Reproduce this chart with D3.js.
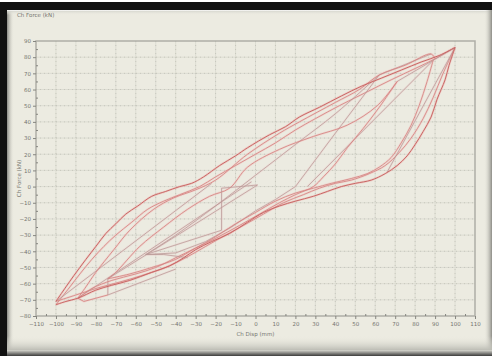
<!DOCTYPE html>
<html>
<head>
<meta charset="utf-8">
<script src="https://cdn.jsdelivr.net/npm/d3@7"></script>
<style>
  html, body { margin: 0; padding: 0; background: #fff; }
  svg { display: block; font-family: "DejaVu Sans", sans-serif; }
</style>
</head>
<body>
<div id="chart"></div>
<script>
// tick labels
const xTickValues = [-110, -100, -90, -80, -70, -60, -50, -40, -30, -20, -10, 0, 10, 20, 30, 40, 50, 60, 70, 80, 90, 100, 110]
const yTickValues = [-80, -70, -60, -50, -40, -30, -20, -10, 0, 10, 20, 30, 40, 50, 60, 70, 80, 90]
const xMinorTicks = [-105, -95, -85, -75, -65, -55, -45, -35, -25, -15, -5, 5, 15, 25, 35, 45, 55, 65, 75, 85, 95, 105]
const yMinorTicks = [-75, -65, -55, -45, -35, -25, -15, -5, 5, 15, 25, 35, 45, 55, 65, 75, 85]

// [Ch Disp (mm), Ch Force (kN)]
const startZig = [[1, 1], [-17, -1], [-17, -27], [-55, -42], [-46, -42], [-34, -44]]
const upperSmall = [[-55, -42], [-40, -30], [-20, -12], [0, 7], [20, 26], [40, 45], [62, 69]]
const lowerSmall = [[62, 69], [40, 33], [20, 0], [10, -8], [0, -15], [-12, -25], [-25, -34], [-40, -41], [-55, -42]]
const upperMid = [[-74, -57], [-70, -53], [-58, -37], [-46, -25], [-34, -14], [-23, -6], [-13, -1], [-4, 12],
  [12, 23], [29, 31], [46, 38], [61, 50], [71, 65]]
const lowerMid = [[71, 65], [62, 49], [54, 36], [46, 24], [40, 14], [34, 6], [29, 0], [20, -5], [12, -10], [2, -17],
  [-8, -24], [-20, -32], [-30, -38], [-40, -45], [-52, -50], [-63, -54], [-74, -57]]
const dropMid = [[-74, -57], [-74, -67], [-40, -51]]
const upperLarge = [[-89, -69], [-85, -62], [-80, -53], [-71, -39], [-63, -27], [-51, -14], [-41, -7], [-30, -2],
  [-20, 4], [-4, 20], [12, 33], [22, 40], [40, 52], [52, 60], [62, 69], [75, 75], [88, 82], [90, 79]]
const lowerLarge = [[89, 78], [86, 65], [82, 50], [78, 38], [73, 27], [68, 18], [62, 12], [56, 8], [48, 5], [38, 2],
  [29, -1], [20, -4], [10, -9], [0, -16], [-10, -23], [-20, -31], [-30, -38], [-40, -44], [-50, -50], [-60, -54],
  [-72, -58], [-82, -63], [-89, -69]]
const hookLarge = [[-89, -69], [-86, -71], [-74, -67]]
const upperOuter = [[-100, -71], [-95, -62], [-91, -55], [-85, -45], [-80, -37], [-75, -29], [-70, -23], [-65, -17],
  [-59, -12], [-52, -6], [-45, -3], [-38, 0], [-32, 2], [-26, 6], [-18, 13], [-10, 19], [-4, 24], [7, 32], [15, 37],
  [22, 43], [32, 49], [43, 56], [53, 62], [63, 67], [73, 72], [83, 77], [92, 81], [100, 86]]
const upperOuter2 = [[-100, -73], [-93, -62], [-88, -54], [-82, -45], [-76, -37], [-70, -30], [-62, -22], [-54, -14],
  [-46, -9], [-38, -5], [-28, 0], [-20, 6], [-10, 13], [0, 20], [10, 27], [20, 35], [30, 42], [42, 50], [55, 58],
  [68, 66], [80, 73], [90, 79], [100, 86]]
const lowerOuter = [[100, 86], [97, 75], [95, 66], [91, 54], [88, 43], [84, 34], [80, 26], [76, 19], [71, 13], [65, 8],
  [58, 4], [50, 2], [43, 0], [36, -3], [29, -6], [20, -9], [12, -12], [4, -16], [-4, -22], [-13, -29], [-22, -34],
  [-30, -39], [-36, -44], [-43, -49], [-52, -53], [-63, -58], [-72, -61], [-80, -64], [-89, -69], [-95, -71], [-100, -73]]
const lowerOuter2 = [[100, 86], [94, 70], [89, 55], [84, 42], [78, 30], [72, 21], [65, 13], [57, 8], [48, 4], [40, 2],
  [32, -1], [24, -5], [14, -10], [4, -17], [-6, -24], [-15, -30], [-25, -37], [-35, -44], [-45, -50], [-57, -55],
  [-68, -59], [-80, -63], [-90, -67], [-100, -71]]
const chordA = [[100, 86], [66, 9]]
const chordB = [[89, 78], [26, 0]]
const chordC = [[-100, -71], [-22, 2]]
const chordD = [[-89, -69], [-2, 3]]
const chordE = [[-74, -57], [1, 1]]
const chordF = [[71, 65], [100, 86]]
const chordG = [[62, 69], [88, 82]]

const curves = [
  { pts: lowerOuter2, kind: 'red', smooth: true }, { pts: upperOuter2, kind: 'red', smooth: true },
  { pts: chordA, kind: 'gray' }, { pts: chordB, kind: 'gray' }, { pts: chordC, kind: 'gray' },
  { pts: chordD, kind: 'gray' }, { pts: chordE, kind: 'gray' }, { pts: chordF, kind: 'gray' },
  { pts: chordG, kind: 'gray' },
  { pts: upperSmall, kind: 'gray', smooth: true }, { pts: lowerSmall, kind: 'gray' },
  { pts: upperMid, kind: 'red', smooth: true }, { pts: lowerMid, kind: 'red', smooth: true },
  { pts: dropMid, kind: 'gray' },
  { pts: upperLarge, kind: 'red', smooth: true }, { pts: lowerLarge, kind: 'red', smooth: true },
  { pts: hookLarge, kind: 'red' },
  { pts: startZig, kind: 'gray' },
  { pts: lowerOuter, kind: 'dark', smooth: true }, { pts: upperOuter, kind: 'dark', smooth: true }
]

const W = 492, H = 356
const svg = d3.select('#chart').append('svg').attr('width', W).attr('height', H)
const defs = svg.append('defs')

function grad(id, x2, y2, stops) {
  const g = defs.append('linearGradient').attr('id', id)
    .attr('x1', 0).attr('y1', 0).attr('x2', x2).attr('y2', y2)
  stops.forEach(s => g.append('stop').attr('offset', s[0]).attr('stop-color', s[1]).attr('stop-opacity', s[2]))
}
grad('gLeft', 1, 0, [[0, '#8a8a84', 1], [1, '#ecebe1', 0]])
grad('gTop', 0, 1, [[0, '#ffffff', 1], [0.3, '#d8d8d0', 0.8], [1, '#ecebe1', 0]])
grad('gBottom', 0, 1, [[0, '#ecebe1', 0], [1, '#bdbdb5', 1]])
grad('gFoot', 0, 1, [[0, '#d8d8d0', 1], [1, '#3c3c3c', 1]])
grad('gRight', 1, 0, [[0, '#ecebe1', 0], [1, '#8c8c86', 1]])

// frame
svg.append('rect').attr('x', 0).attr('y', 2).attr('width', W).attr('height', H - 2).attr('fill', '#111')
svg.append('rect').attr('x', 7).attr('y', 10).attr('width', W - 7).attr('height', H - 10).attr('fill', '#ecebe1')
svg.append('rect').attr('x', 7).attr('y', 10).attr('width', 7).attr('height', H - 10).attr('fill', 'url(#gLeft)')
svg.append('rect').attr('x', 7).attr('y', 10).attr('width', W - 7).attr('height', 5).attr('fill', 'url(#gTop)')
svg.append('rect').attr('x', W - 8).attr('y', 10).attr('width', 8).attr('height', H - 10).attr('fill', 'url(#gRight)')
svg.append('rect').attr('x', 7).attr('y', 336).attr('width', W - 7).attr('height', 14).attr('fill', 'url(#gBottom)')
svg.append('rect').attr('x', 7).attr('y', 350).attr('width', W - 7).attr('height', 6).attr('fill', 'url(#gFoot)')

const x = d3.scaleLinear().domain([-110, 110]).range([36, 475])
const y = d3.scaleLinear().domain([-80, 90]).range([316, 41])

const plot = svg.append('g')

// grid
plot.selectAll('line.vg').data(xTickValues.slice(1, -1)).enter().append('line')
  .attr('x1', d => x(d)).attr('x2', d => x(d)).attr('y1', y(90)).attr('y2', y(-80))
  .attr('stroke', '#dcdcd2').attr('stroke-width', 1)
plot.selectAll('line.hg').data(yTickValues.slice(1, -1)).enter().append('line')
  .attr('y1', d => y(d)).attr('y2', d => y(d)).attr('x1', x(-110)).attr('x2', x(110))
  .attr('stroke', '#dcdcd2').attr('stroke-width', 1)
plot.selectAll('line.vgd').data(xTickValues.slice(1, -1)).enter().append('line')
  .attr('x1', d => x(d)).attr('x2', d => x(d)).attr('y1', y(90)).attr('y2', y(-80))
  .attr('stroke', '#c2c2b7').attr('stroke-width', 0.8).attr('stroke-dasharray', '1,3')
plot.selectAll('line.hgd').data(yTickValues.slice(1, -1)).enter().append('line')
  .attr('y1', d => y(d)).attr('y2', d => y(d)).attr('x1', x(-110)).attr('x2', x(110))
  .attr('stroke', '#c2c2b7').attr('stroke-width', 0.8).attr('stroke-dasharray', '1,3')

// curves
const straight = d3.line().x(d => x(d[0])).y(d => y(d[1]))
const smooth = d3.line().x(d => x(d[0])).y(d => y(d[1])).curve(d3.curveCatmullRom.alpha(0.5))
const core = { red: '#d48482', gray: '#b99896', dark: '#c96866' }
const halo = { red: '#f1c6c2', gray: '#ead3cf', dark: '#efb4b0' }
const width = { red: 0.85, gray: 0.75, dark: 1 }
curves.forEach(c => {
  plot.append('path').attr('d', (c.smooth ? smooth : straight)(c.pts)).attr('fill', 'none')
    .attr('stroke', halo[c.kind]).attr('stroke-width', 2.2).attr('stroke-opacity', 0.55)
    .attr('stroke-linejoin', 'round')
})
curves.forEach(c => {
  plot.append('path').attr('d', (c.smooth ? smooth : straight)(c.pts)).attr('fill', 'none')
    .attr('stroke', core[c.kind]).attr('stroke-width', width[c.kind])
    .attr('stroke-linejoin', 'round')
})

// plot box
plot.append('rect').attr('x', x(-110)).attr('y', y(90)).attr('width', x(110) - x(-110)).attr('height', y(-80) - y(90))
  .attr('fill', 'none').attr('stroke', '#aeaea6').attr('stroke-width', 1.5)

// axes
const gx = svg.append('g').attr('transform', `translate(0,${y(-80)})`)
  .call(d3.axisBottom(x).tickValues(xTickValues).tickSizeInner(3).tickSizeOuter(0).tickPadding(3))
const gxm = svg.append('g').attr('transform', `translate(0,${y(-80)})`)
  .call(d3.axisBottom(x).tickValues(xMinorTicks).tickSizeInner(-2).tickSizeOuter(0).tickFormat(''))
const gy = svg.append('g').attr('transform', `translate(${x(-110)},0)`)
  .call(d3.axisLeft(y).tickValues(yTickValues).tickSizeInner(3).tickSizeOuter(0).tickPadding(2))
const gym = svg.append('g').attr('transform', `translate(${x(-110)},0)`)
  .call(d3.axisLeft(y).tickValues(yMinorTicks).tickSizeInner(-2).tickSizeOuter(0).tickFormat(''))
;[gx, gxm, gy, gym].forEach(g => {
  g.select('.domain').remove()
  g.selectAll('line').attr('stroke', '#85857f')
  g.selectAll('text').attr('fill', '#74746f').attr('font-size', 5.5).attr('font-family', '"DejaVu Sans", sans-serif')
})

// titles
svg.append('text').attr('x', 17).attr('y', 17).attr('font-size', 5.5).attr('fill', '#74746f').text('Ch Force (kN)')
svg.append('text').attr('x', x(0)).attr('y', 336).attr('text-anchor', 'middle')
  .attr('font-size', 5.5).attr('fill', '#74746f').text('Ch Disp (mm)')
svg.append('text').attr('transform', `translate(21,${(y(90) + y(-80)) / 2}) rotate(-90)`).attr('text-anchor', 'middle')
  .attr('font-size', 5.5).attr('fill', '#74746f').text('Ch Force (kN)')
</script>
</body>
</html>
